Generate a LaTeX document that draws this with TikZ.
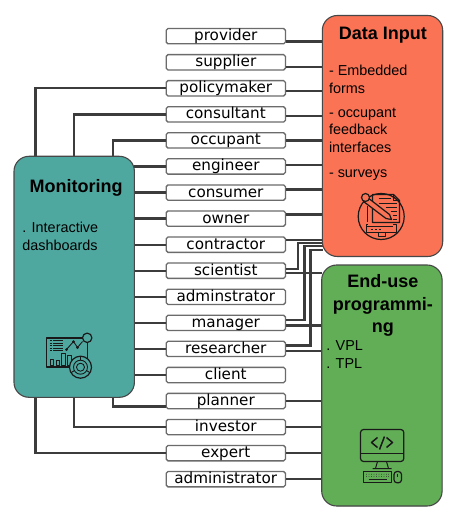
\documentclass[tikz,border=0pt]{standalone}
\usepackage{fontspec}
\setmainfont{Liberation Sans}
\newfontfamily\labfont{DejaVu Sans}
\usetikzlibrary{calc}
\definecolor{wirec}{HTML}{3C3C3C}
\definecolor{monc}{HTML}{4FA8A0}
\definecolor{datac}{HTML}{FA7355}
\definecolor{endc}{HTML}{62AE56}
\tikzset{
  wire/.style={draw=wirec,line width=2.3pt},
  lab/.style={draw=black!58,fill=white,line width=1.3pt,rounded corners=1.8pt,minimum width=119.3pt,
    text height=11.6pt,text depth=2.7pt,inner ysep=.5pt,inner xsep=0pt,font=\labfont\fontsize{15.2}{16}\selectfont},
  panel/.style={draw=black!72,line width=1pt,rounded corners=15pt,minimum width=119.4pt,minimum height=240pt,inner sep=0pt},
  panelfill/.style={draw=black!72,line width=1.1pt,rounded corners=15pt},
  ttl/.style={anchor=base,inner sep=0pt,font=\bfseries\fontsize{18}{20}\selectfont},
  body/.style={anchor=base west,inner sep=0pt,font=\fontsize{14.4}{16}\selectfont},
  ico/.style={draw=black!90,line width=1.2pt,line join=round},
  icot/.style={draw=black!90,line width=.8pt}
}
\begin{document}
\begin{tikzpicture}[x=1pt,y=-1pt]
\useasboundingbox[fill=white] (0,0) rectangle (450,510);
\foreach \n/\y in {provider/36.2,supplier/62.3,policymaker/88.3,consultant/114.4,occupant/140.4,engineer/166.5,consumer/192.6,owner/218.6,contractor/244.7,scientist/270.7,adminstrator/296.8,manager/322.9,researcher/348.9,client/375,planner/401,investor/427.1,expert/453.2,administrator/479.2}
  \node[lab] (\n) at (225.8,\y) {\n};
\node[panel,fill=monc] (mon) at (74.2,276.8) {};
\node[panel,fill=datac] (dat) at (382.5,136) {};
\node[panel,fill=endc] (eup) at (381.9,385.5) {};
\coordinate (mt1) at (35.5,156.5);
\coordinate (mt2) at (74.2,156.5);
\coordinate (mt3) at (112.8,156.5);
\coordinate (mb1) at (35.5,397);
\coordinate (mb2) at (74.2,397);
\coordinate (mb3) at (112.8,397);
\coordinate (plan) at (165.5,406.5);
\coordinate (s1) at (297.8,268.8);
\coordinate (s2) at (304.5,319.9);
\coordinate (s3) at (310.5,345.5);
\coordinate (ds) at (323,243.2);
\coordinate (dm) at (323,246.3);
\coordinate (dr) at (323,249.9);
% Monitoring connectors
\draw[wire] (policymaker.west) -| (mt1);
\draw[wire] (consultant.west) -| (mt2);
\draw[wire] (occupant.west) -| (mt3);
\foreach \n in {engineer,consumer,owner,contractor,scientist,adminstrator,manager,researcher,client}
  \draw[wire] (\n.west) -- (\n.west -| mon.east);
\draw[wire] (plan) -| (mb3);
\draw[wire] (investor.west) -| (mb2);
\draw[wire] (expert.west) -| (mb1);
% Data Input connectors
\foreach \n/\y in {provider/41.5,supplier/67,policymaker/91.2,consultant/116.2,occupant/140.5,engineer/165.2,consumer/189.5,owner/214.5,contractor/239.8}
  \draw[wire] (\n.east |- 0,\y) -- (dat.west |- 0,\y);
\draw[wire] (scientist.east |- s1) -- (s1) -- (s1 |- ds) -- (ds);
\draw[wire] (manager.east |- s2) -- (s2) -- (s2 |- dm) -- (dm);
\draw[wire] (researcher.east |- s3) -- (s3) -- (s3 |- dr) -- (dr);
% End-use connectors
\foreach \n/\y in {scientist/272.8,manager/325.5,researcher/351.2,planner/401.2,investor/427.2,expert/452.9,administrator/478.8}
  \draw[wire] (\n.east |- 0,\y) -- (eup.west |- 0,\y);
% panels above wire ends
\draw[panelfill,fill=monc] (mon.north west) rectangle (mon.south east);
\draw[panelfill,fill=datac] (dat.north west) rectangle (dat.south east);
\draw[panelfill,fill=endc] (eup.north west) rectangle (eup.south east);
% Monitoring text
\node[ttl] (t1) at (76.2,192.2) {Monitoring};
\node[body] (m1) at (22.2,232.2) {. Interactive};
\node[body] (m2) at (22.2,250.2) {dashboards};
% Data text
\node[ttl] (t2) at (382.8,39.8) {Data Input};
\node[body] (d1) at (328.8,75.5) {- Embedded};
\node[body] (d2) at (328.8,93.2) {forms};
\node[body] (d3) at (328.8,117.2) {- occupant};
\node[body] (d4) at (328.8,134.8) {feedback};
\node[body] (d5) at (328.8,152.8) {interfaces};
\node[body] (d6) at (328.8,177.2) {- surveys};
% End-use text
\node[ttl] (t3) at (382.8,287.8) {End-use};
\node[ttl] (t4) at (382.8,310.5) {programmi-};
\node[ttl] (t5) at (382.8,332.2) {ng};
\node[body] (e1) at (326.2,350.5) {. VPL};
\node[body] (e2) at (326.2,368.2) {. TPL};
% Monitoring icon
\begin{scope}[shift={(.5,.5)}]
\draw[ico,fill=monc] (46,337.5) rectangle (87.3,366.5);
\foreach \y in {340,342.5,345,347.5,350}{
  \draw[icot] (49,\y) -- (51,\y);
  \draw[icot] (52.5,\y) -- (62,\y);}
\draw[ico,line width=.9pt] (50,364.5) rectangle (53,358.5);
\draw[ico,line width=.9pt] (56,364.5) rectangle (59,360);
\draw[ico,line width=.9pt] (61,364.5) rectangle (65,352.5);
\draw[ico,line width=.9pt] (67,364.5) rectangle (71,355);
\draw[ico,line width=.9pt] (66,349) -- (73,341) -- (77,347) -- (82,341);
\fill[black!90] (66,349) circle (1.5) (73,341) circle (1.5) (77,347) circle (1.5);
\draw[ico,fill=monc] (86.7,337.3) circle (4.7);
\draw[ico,fill=monc] (80,366.7) circle (11);
\draw[ico,line width=.9pt] (80,366.7) circle (7) (80,366.7) circle (4);
\draw[ico,line width=.9pt] (80,355.7) -- (80,359.7) (70.5,372.2) -- (74,370) (89.5,372.2) -- (86,370);
% Data icon
\draw[ico] (380.7,216) circle (23);
\draw[ico] (372,194) -- (393,194) -- (399,200) -- (399,222) -- (372,222) -- cycle;
\draw[ico,line width=.9pt] (393,194) -- (393,200) -- (399,200);
\foreach \a/\b/\y in {378/390/198,378/396/203,385/396/207,390/396/211,392/396/215,392/396/219}
  \draw[icot,line width=1pt] (\a,\y) -- (\b,\y);
\draw[ico,fill=datac] (363,201) -- (367,197) -- (389,214) -- (391,219) -- (385.5,218) -- cycle;
\draw[ico,fill=datac] (365,197) circle (4);
\draw[ico,line width=.9pt] (367,206) -- (367,222);
\draw[ico] (367,224) -- (366,224) -- (366,232) -- (396,232) -- (396,224) -- (392,224);
\draw[ico,line width=.9pt] (366,225.5) -- (392,225.5) (378,232) -- (378,236) -- (385,236) -- (385,232);
\draw[ico,line width=.9pt] (370,228.5) -- (372,228.5) (374,228.5) -- (376,228.5) (378,228.5) -- (380,228.5);
% Computer icon
\draw[ico,rounded corners=3pt] (360,429) rectangle (403.3,461);
\draw[ico] (360,453.3) -- (403.3,453.3);
\draw[ico,line width=1.5pt] (377,437) -- (371,442) -- (377,447);
\draw[ico,line width=1.5pt] (379,449) -- (384,436);
\draw[ico,line width=1.5pt] (386,437) -- (392,442) -- (386,447);
\draw[ico,line width=1pt] (377,461) -- (375,468) (386,461) -- (388,468) (372,468) -- (391,468);
\draw[ico] (363.3,471) rectangle (390.7,482.3);
\foreach \x in {366,368.5,371,373.5,376,378.5,381,383.5,386,388}{
  \fill[black!85] (\x,473.7) circle (.45);
  \fill[black!85] (\x,476) circle (.45);}
\draw[icot] (368,479.3) -- (386,479.3);
\draw[ico,rounded corners=3pt] (393.5,471) rectangle (401,482.3);
\draw[icot] (397.2,473) -- (397.2,476);
\end{scope}
\end{tikzpicture}
\end{document}
